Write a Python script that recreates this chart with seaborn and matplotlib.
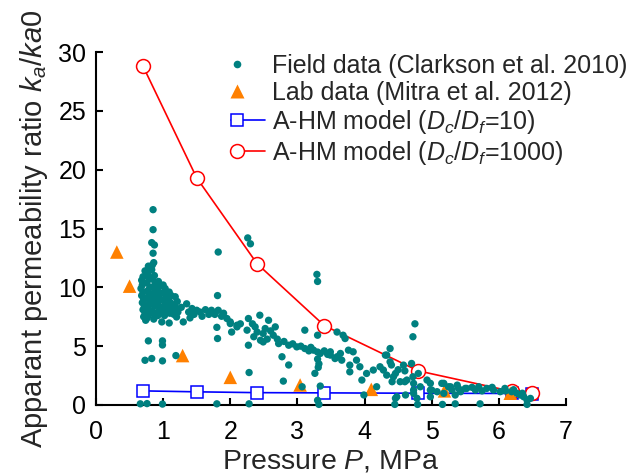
import numpy as np
import matplotlib
matplotlib.use("Agg")
import matplotlib.pyplot as plt
import seaborn as sns
from matplotlib.lines import Line2D
from matplotlib.legend_handler import HandlerLine2DCompound

# ---------------- data ----------------
field_p = [0.85, 0.85, 0.83, 0.87, 0.85, 0.86, 0.84, 0.83,
           1.82, 1.81, 1.80, 1.81, 2.26, 2.30, 3.29, 3.30, 4.75, 4.72,
           0.73, 0.70, 0.68, 0.69, 0.67, 0.70, 0.68, 0.71, 0.69, 0.72, 0.70, 0.73, 0.71, 0.74,
           0.78, 0.77, 0.79, 0.76, 0.80, 0.77, 0.79, 0.76, 0.80, 0.78, 0.77, 0.80, 0.78,
           0.87, 0.84, 0.88, 0.85, 0.87, 0.84, 0.88, 0.85, 0.87, 0.84, 0.88, 0.86,
           0.93, 0.95, 0.92, 0.96, 0.93, 0.95, 0.92, 0.96, 0.94, 0.92, 0.97,
           1.00, 1.03, 1.01, 1.04, 1.00, 1.03, 1.01, 1.05, 1.02,
           1.09, 1.12, 1.08, 1.11, 1.09, 1.13, 1.10,
           1.18, 1.21, 1.17, 1.20, 1.22, 1.16,
           0.755, 0.98, 1.09, 1.20, 1.30,
           1.35, 1.43, 1.50, 1.58, 1.63, 1.72, 1.82, 1.87, 1.95, 2.00, 2.10, 2.02,
           1.27, 1.38, 1.46, 1.55, 1.68, 1.77, 1.90, 1.40,
           0.78, 0.99, 0.99, 0.73, 0.83, 0.99, 1.19,
           0.66, 0.76, 0.99, 1.80, 2.28, 3.30, 3.32,
           2.00, 2.10, 2.27, 2.44, 2.57, 2.67, 2.25, 2.37, 2.49, 2.64,
           2.27, 2.49, 2.72, 2.87, 2.99, 3.11, 3.24, 3.34, 3.49, 3.59, 3.64,
           2.77, 2.87, 3.11, 3.30, 2.28, 2.79, 3.26, 3.07, 3.34,
           2.15, 2.33, 2.40, 2.52, 2.60, 2.55, 2.70, 2.80, 2.93, 3.05,
           3.17, 3.20, 3.30, 3.40, 3.45, 3.30, 3.32, 3.31, 2.35, 2.45,
           3.59, 3.71, 3.68, 4.38, 4.33, 3.49, 3.56, 3.66, 3.76, 3.83, 3.88, 3.78,
           3.93, 4.03, 4.13, 4.23, 4.33, 4.43, 4.53, 4.63, 4.72, 4.80, 3.78,
           3.96, 4.18, 4.48, 4.61, 4.73, 4.83, 4.93, 4.98, 5.08, 5.18, 3.99,
           4.45, 4.79, 5.16,
           4.38, 4.28, 4.46, 4.41, 4.60, 4.73, 4.73, 4.78, 4.46, 4.98, 5.00, 4.98,
           5.15, 5.28, 5.40, 5.35, 5.52, 4.31, 4.70, 4.58, 4.50, 4.60, 4.40,
           5.18, 5.25, 5.38, 5.43, 5.50, 5.65, 5.70, 5.82, 5.92, 6.02, 6.09, 6.19,
           6.27, 6.32, 6.37, 6.42, 6.47, 5.35, 5.72, 6.42,
           5.30, 5.60, 5.90, 6.10, 5.75, 6.22, 6.35]
field_k = [16.6, 14.9, 13.8, 13.6, 12.9, 12.1, 11.9, 11.5,
           13.0, 9.3, 6.6, 5.65, 14.2, 13.7, 11.1, 10.5, 6.9, 5.8,
           11.4, 10.9, 10.6, 10.2, 9.9, 9.6, 9.3, 9.0, 8.7, 8.4, 8.1, 7.8, 7.5, 7.2,
           11.8, 11.2, 10.8, 10.4, 10.0, 9.7, 9.4, 9.1, 8.8, 8.5, 8.2, 7.9, 7.6,
           11.0, 10.7, 10.3, 10.0, 9.6, 9.3, 9.0, 8.7, 8.4, 8.0, 7.7, 7.3,
           10.5, 10.1, 9.8, 9.5, 9.2, 8.9, 8.6, 8.3, 8.0, 7.6, 7.9,
           10.2, 9.9, 9.5, 9.2, 8.9, 8.5, 8.2, 7.9, 7.6,
           9.6, 9.3, 9.0, 8.7, 8.4, 8.1, 7.8,
           9.2, 8.8, 8.5, 8.2, 7.9, 7.7,
           7.35, 7.06, 6.97, 7.48, 7.06,
           8.6, 8.2, 8.05, 7.54, 8.1, 8.05, 8.05, 7.54, 7.35, 6.92, 6.78, 6.2,
           8.3, 7.9, 7.7, 7.9, 7.7, 7.7, 7.8, 7.4,
           5.45, 5.45, 5.1, 3.8, 3.95, 3.75, 4.2,
           0.1, 0.12, 0.08, 0.1, 0.1, 0.4, 0.05,
           7.06, 6.64, 7.35, 7.63, 7.2, 6.64, 6.36, 6.64, 6.08, 5.93,
           5.08, 5.36, 5.22, 5.08, 4.94, 4.8, 4.66, 4.38, 4.24, 4.1, 4.38,
           4.1, 3.4, 6.36, 5.93, 2.76, 2.03, 2.69, 1.55, 1.61,
           6.9, 6.9, 6.2, 6.5, 6.3, 5.6, 5.6, 5.4, 5.2, 5.0,
           4.6, 4.9, 4.5, 4.6, 4.3, 3.9, 3.5, 3.2, 5.8, 5.5,
           6.2, 5.65, 5.93, 4.8, 4.24, 4.52, 3.95, 3.81, 4.66, 4.52, 3.81, 3.39,
           3.25, 2.68, 2.97, 3.25, 2.54, 2.4, 1.98, 2.12, 2.4, 2.68, 2.82,
           2.12, 1.55, 0.7, 0.85, 1.27, 1.55, 2.12, 1.27, 1.13, 0.99, 0.85,
           0.05, 0.05, 0.05,
           3.67, 2.97, 2.68, 1.98, 1.98, 1.84, 0.99, 0.57, 0.57, 1.84, 1.27, 0.7,
           1.84, 1.55, 1.41, 0.85, 1.41, 4.24, 3.53, 3.39, 3.0, 2.9, 3.4,
           1.84, 1.55, 1.69, 1.13, 1.41, 1.27, 1.55, 1.41, 1.27, 1.13, 1.41, 1.13,
           0.99, 0.85, 0.7, 0.42, 0.56, 0.1, 0.1, 0.05,
           1.3, 1.5, 1.5, 1.2, 1.2, 1.3, 1.0]

lab_p = [0.31, 0.50, 1.29, 2.00, 3.04, 4.10, 5.19, 6.17]
lab_k = [13.0, 10.1, 4.2, 2.35, 1.7, 1.33, 1.2, 1.0]

model_p = [0.7, 1.5, 2.4, 3.4, 4.8, 6.2, 6.5]
model10_k = [1.2, 1.12, 1.05, 1.03, 1.0, 0.98, 0.97]
model1000_k = [28.8, 19.3, 12.0, 6.75, 2.9, 1.15, 0.98]

labels = ["Field data (Clarkson et al. 2010)",
          "Lab data (Mitra et al. 2012)",
          "A-HM model ($D_c$/$D_f$=10)",
          "A-HM model ($D_c$/$D_f$=1000)"]

# ---------------- style ----------------
sns.set_style("ticks")
plt.rcParams["font.family"] = ["Liberation Sans", "DejaVu Sans"]
plt.rcParams["mathtext.fontset"] = "custom"
plt.rcParams["mathtext.rm"] = "Liberation Sans"
plt.rcParams["mathtext.it"] = "Liberation Sans:italic"

TEAL = "#008080"
ORANGE = "#FF8000"

fig = plt.figure(figsize=(6.3, 4.76), dpi=100)
ax = fig.add_axes([96/630, 1 - 405/476, (566-96)/630, (405-52)/476])

sns.lineplot(x=model_p, y=model10_k, ax=ax, color="#0000FF", lw=1.2,
             marker="s", markersize=9, markerfacecolor="white",
             markeredgecolor="#0000FF", markeredgewidth=1.1,
             estimator=None, sort=False, zorder=2)
sns.lineplot(x=model_p, y=model1000_k, ax=ax, color="#FF0000", lw=1.2,
             marker="o", markersize=10, markerfacecolor="white",
             markeredgecolor="#FF0000", markeredgewidth=1.1,
             estimator=None, sort=False, zorder=2.5)
sns.scatterplot(x=lab_p, y=lab_k, ax=ax, marker="^", s=95, color=ORANGE,
                edgecolor="none", zorder=3, clip_on=False, legend=False)
sns.scatterplot(x=field_p, y=field_k, ax=ax, s=28, color=TEAL,
                edgecolor="none", zorder=4, clip_on=False, legend=False)

ax.set_xlim(0, 7)
ax.set_ylim(0, 30)
ax.set_xticks(range(0, 8))
ax.set_yticks(range(0, 31, 5))
for s in ["top", "right"]:
    ax.spines[s].set_visible(False)
for s in ["left", "bottom"]:
    ax.spines[s].set_linewidth(1.5)
    ax.spines[s].set_color("black")
ax.tick_params(direction="in", length=5, width=1.5, labelsize=18, pad=7,
               colors="black")
ax.tick_params(axis="x", pad=10.5)

ax.set_xlabel("Pressure $P$, MPa", fontsize=20.5, labelpad=3.5)
ax.set_ylabel("Apparant permeability ratio $k_a$/$ka0$", fontsize=21, labelpad=6)


class LeftMarker(HandlerLine2DCompound):
    def get_xdata(self, legend, xdescent, ydescent, width, height, fontsize):
        xdata = np.array([-xdescent, -xdescent + width])
        xm = np.array([-xdescent + 0.18 * width])
        return xdata, xm


handles = [
    Line2D([], [], ls="none", marker="o", markersize=5.5, color=TEAL, markeredgecolor="none"),
    Line2D([], [], ls="none", marker="^", markersize=10, color=ORANGE, markeredgecolor="none"),
    Line2D([], [], color="#0000FF", lw=1.2, marker="s", markersize=9,
           markerfacecolor="white", markeredgecolor="#0000FF", markeredgewidth=1.1),
    Line2D([], [], color="#FF0000", lw=1.2, marker="o", markersize=10,
           markerfacecolor="white", markeredgecolor="#FF0000", markeredgewidth=1.1),
]
leg = ax.legend(handles, labels, loc="upper left",
                bbox_to_anchor=(231/630, 1 - 54/476), bbox_transform=fig.transFigure,
                frameon=False, fontsize=18, handlelength=1.36, handletextpad=0.28,
                labelspacing=0.12, borderpad=0, borderaxespad=0,
                handler_map={Line2D: LeftMarker(numpoints=1)})

fig.savefig("out.png", dpi=100)
